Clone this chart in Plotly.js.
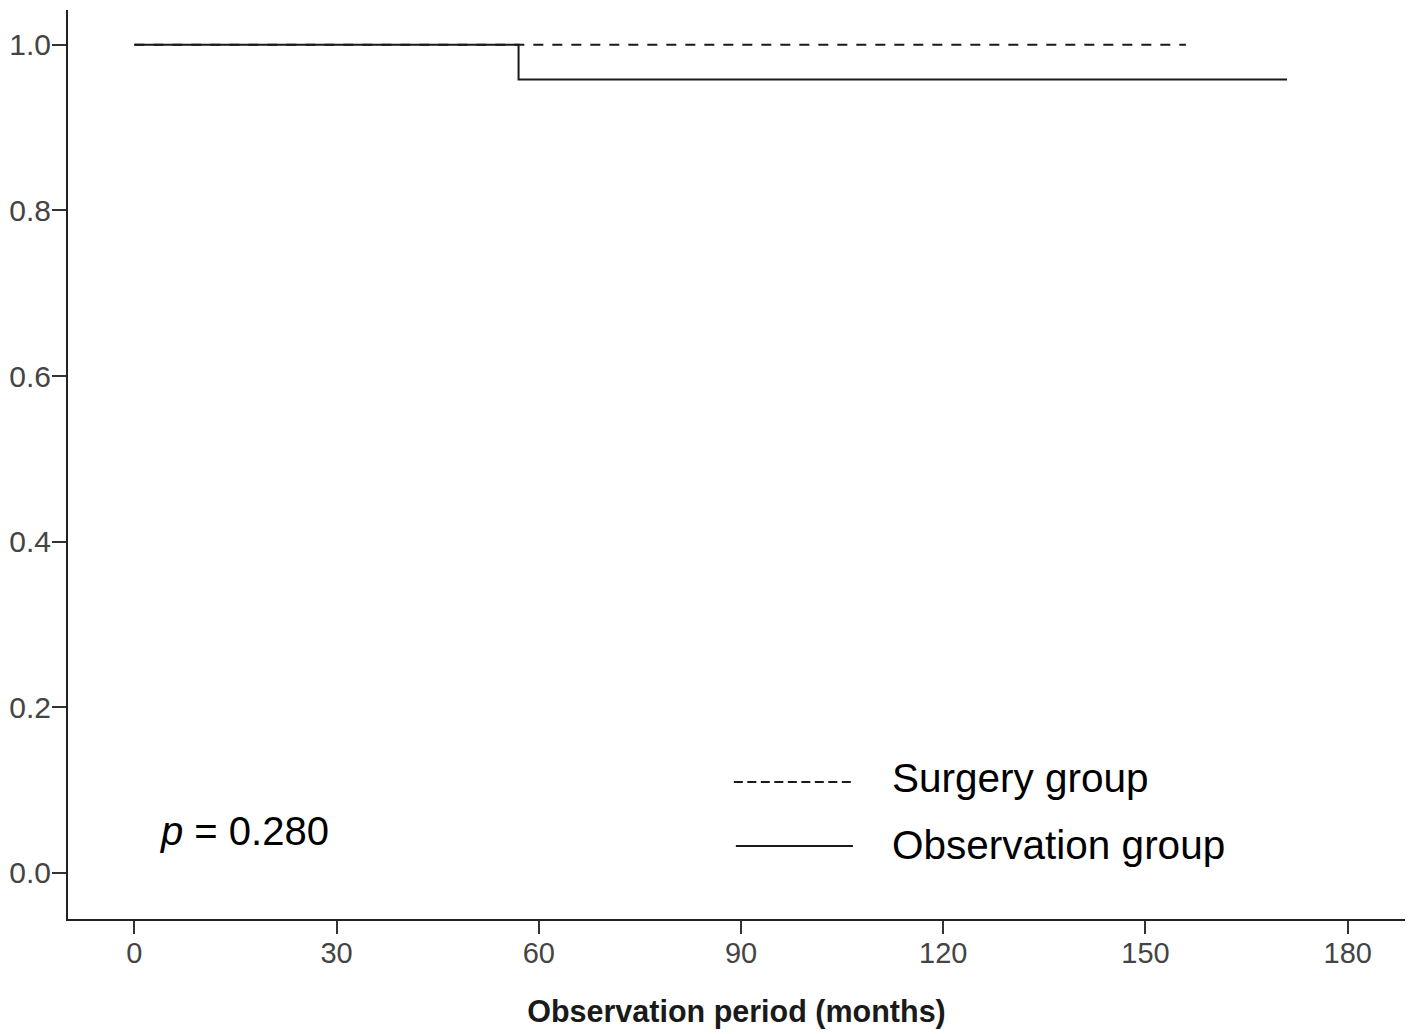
<!DOCTYPE html>
<html>
<head>
<meta charset="utf-8">
<script src="https://cdn.plot.ly/plotly-3.0.1.min.js"></script>
<style>
  html, body { margin: 0; padding: 0; background: #fff; }
  #chart { width: 1416px; height: 1034px; }
</style>
</head>
<body>
<div id="chart"></div>
<script>
// Kaplan-Meier step data (months, cumulative survival)
const surgeryMonths = [0, 156];
const surgerySurvival = [1.0, 1.0];
const observationMonths = [0, 57, 171];
const observationSurvival = [1.0, 0.958, 0.958];

const seriesNames = ["Surgery group", "Observation group"];
const xTickValues = [0, 30, 60, 90, 120, 150, 180];
const yTickValues = [0.0, 0.2, 0.4, 0.6, 0.8, 1.0];
const pValueText = "p = 0.280";
const xAxisTitle = "Observation period (months)";

const FONT = "Liberation Sans, Arial, Helvetica, sans-serif";
const INK = "#1a1a1a";

const traces = [
  {
    x: observationMonths, y: observationSurvival, type: "scatter", mode: "lines",
    line: { shape: "hv", color: INK, width: 2 }, name: seriesNames[1], showlegend: false,
    hoverinfo: "skip"
  },
  {
    x: surgeryMonths, y: surgerySurvival, type: "scatter", mode: "lines",
    line: { shape: "hv", color: INK, width: 2, dash: "10px,9px" }, name: seriesNames[0], showlegend: false,
    hoverinfo: "skip"
  }
];

const layout = {
  width: 1416, height: 1034,
  margin: { l: 68, r: 11, t: 10, b: 115 },
  paper_bgcolor: "#ffffff", plot_bgcolor: "#ffffff",
  font: { family: FONT, color: INK },
  showlegend: false,
  xaxis: {
    range: [-9.84, 188.5], tickvals: xTickValues, ticktext: xTickValues.map(String),
    showgrid: false, zeroline: false, showline: true, linecolor: "#222", linewidth: 2,
    ticks: "outside", ticklen: 13, tickwidth: 2, tickcolor: "#333",
    ticklabelstandoff: -6,
    tickfont: { family: FONT, size: 29, color: "#444" },
    title: { text: "<b>" + xAxisTitle + "</b>", font: { family: FONT, size: 30.5, color: INK }, standoff: 33 }
  },
  yaxis: {
    range: [-0.0556, 1.042], tickvals: yTickValues, ticktext: yTickValues.map(v => v.toFixed(1)),
    showgrid: false, zeroline: false, showline: true, linecolor: "#222", linewidth: 2,
    ticks: "outside", ticklen: 14, tickwidth: 2, tickcolor: "#333",
    ticklabelstandoff: -5,
    tickfont: { family: FONT, size: 30, color: "#444" }
  },
  shapes: [
    { type: "line", xref: "paper", yref: "paper", x0: 0.498, x1: 0.5864, y0: 0.1507, y1: 0.1507,
      line: { color: INK, width: 2, dash: "9px,4.5px" } },
    { type: "line", xref: "paper", yref: "paper", x0: 0.4995, x1: 0.5871, y0: 0.0803, y1: 0.0803,
      line: { color: INK, width: 2 } }
  ],
  annotations: [
    { xref: "paper", yref: "paper", x: 0.6148, y: 0.155, xanchor: "left", yanchor: "middle",
      text: seriesNames[0], showarrow: false, font: { family: FONT, size: 40.5, color: "#000" } },
    { xref: "paper", yref: "paper", x: 0.6148, y: 0.0814, xanchor: "left", yanchor: "middle",
      text: seriesNames[1], showarrow: false, font: { family: FONT, size: 40.5, color: "#000" } },
    { xref: "paper", yref: "paper", x: 0.0673, y: 0.0968, xanchor: "left", yanchor: "middle",
      text: "<i>p</i>" + pValueText.slice(1), showarrow: false, font: { family: FONT, size: 40, color: "#000" } }
  ]
};

Plotly.newPlot("chart", traces, layout, { displayModeBar: false, staticPlot: true });
</script>
</body>
</html>
